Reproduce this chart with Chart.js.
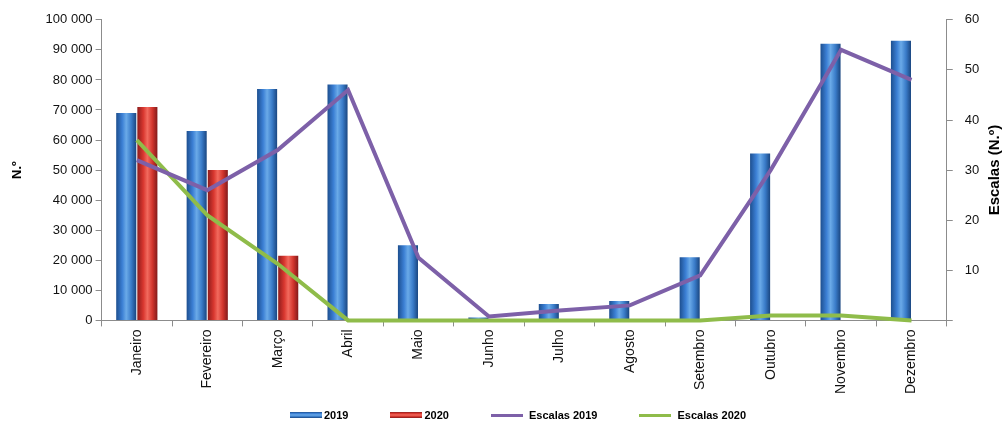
<!DOCTYPE html>
<html>
<head>
<meta charset="utf-8">
<script src="https://cdn.jsdelivr.net/npm/chart.js@4.4.1/dist/chart.umd.min.js"></script>
<style>
  html, body { margin: 0; padding: 0; background: #fff; }
  #wrap { position: relative; width: 1002px; height: 423px; }
  #legend { position: absolute; left: 290px; top: 409px; display: flex; gap: 42px;
            font: bold 11px "Liberation Sans", Arial, sans-serif; color: #000; }
  #legend .item { display: flex; align-items: center; }
  #legend .sw { width: 32px; margin-right: 2px; }
  #legend .ln { width: 32px; height: 3px; margin-right: 6px; }
</style>
</head>
<body>
<div id="wrap">
  <canvas id="myChart" width="1002" height="423"></canvas>
  <div id="legend"></div>
</div>
<script>
var months = ['Janeiro', 'Fevereiro', 'Março', 'Abril', 'Maio', 'Junho', 'Julho', 'Agosto', 'Setembro', 'Outubro', 'Novembro', 'Dezembro'];
var valores2019 = [69000, 63000, 77000, 78500, 25000, 1000, 5500, 6500, 21000, 55500, 92000, 93000];
var valores2020 = [71000, 50000, 21500, null, null, null, null, null, null, null, null, null];
var escalas2019 = [32, 26, 34, 46, 12.5, 0.8, 2, 3, 9, 30, 54, 48];
var escalas2020 = [36, 21, 11.3, 0, 0, 0, 0, 0, 0, 1, 1, 0];

var blueStops = ['#1d4f8f', '#3b7fd4', '#6aaae8', '#3a7cc9', '#1a4680'];
var redStops = ['#8e1d1d', '#d9372f', '#f26a5e', '#d2352d', '#821a1a'];

function fmt(v) {
    return String(v).replace(/\B(?=(\d{3})+(?!\d))/g, ' ');
}

// cylinder-like shading on the bars
var barShade = {
    id: 'barShade',
    beforeDatasetsDraw: function (chart) {
        var ctx = chart.ctx;
        chart.data.datasets.forEach(function (ds, i) {
            if (ds.type !== 'bar') return;
            var stops = ds.shade;
            chart.getDatasetMeta(i).data.forEach(function (bar) {
                var p = bar.getProps(['x', 'width'], true);
                var g = ctx.createLinearGradient(p.x - p.width / 2, 0, p.x + p.width / 2, 0);
                g.addColorStop(0, stops[0]);
                g.addColorStop(0.3, stops[1]);
                g.addColorStop(0.5, stops[2]);
                g.addColorStop(0.75, stops[3]);
                g.addColorStop(1, stops[4]);
                bar.options.backgroundColor = g;
            });
        });
    }
};

// right axis title reads bottom to top
var rightTitle = {
    id: 'rightTitle',
    afterDraw: function (chart) {
        var ctx = chart.ctx;
        var a = chart.chartArea;
        ctx.save();
        ctx.translate(995, (a.top + a.bottom) / 2);
        ctx.rotate(-Math.PI / 2);
        ctx.font = 'bold 15px "Liberation Sans", Arial, sans-serif';
        ctx.fillStyle = '#000';
        ctx.textAlign = 'center';
        ctx.textBaseline = 'middle';
        ctx.fillText('Escalas (N.º)', 0, 0);
        ctx.restore();
    }
};

const ctx = document.getElementById('myChart');
const chart = new Chart(ctx, {
    data: {
        labels: months,
        datasets: [{
            type: 'line',
            label: 'Escalas 2019',
            data: escalas2019,
            yAxisID: 'y1',
            borderColor: '#7d60a8',
            backgroundColor: '#7d60a8',
            borderWidth: 4,
            pointRadius: 0,
            clip: false,
            order: 0
        }, {
            type: 'line',
            label: 'Escalas 2020',
            data: escalas2020,
            yAxisID: 'y1',
            borderColor: '#8fbc4a',
            backgroundColor: '#8fbc4a',
            borderWidth: 4,
            pointRadius: 0,
            clip: false,
            order: 0
        }, {
            type: 'bar',
            label: '2019',
            data: valores2019,
            yAxisID: 'y',
            shade: blueStops,
            backgroundColor: function () { return '#3b7fd4'; },
            borderWidth: 0,
            categoryPercentage: 0.6,
            barPercentage: 0.95,
            order: 1
        }, {
            type: 'bar',
            label: '2020',
            data: valores2020,
            yAxisID: 'y',
            shade: redStops,
            backgroundColor: function () { return '#d9372f'; },
            borderWidth: 0,
            categoryPercentage: 0.6,
            barPercentage: 0.95,
            order: 1
        }]
    },
    options: {
        responsive: false,
        animation: false,
        layout: { padding: { left: 6, right: 0, top: 18, bottom: 26 } },
        plugins: {
            legend: { display: false },
            tooltip: { enabled: false }
        },
        scales: {
            x: {
                grid: { drawOnChartArea: false, tickLength: 6, color: '#8c8c8c' },
                border: { color: '#8c8c8c' },
                ticks: {
                    minRotation: 90, maxRotation: 90, color: '#111',
                    font: { family: '"Liberation Sans", Arial, sans-serif', size: 14 }
                }
            },
            y: {
                position: 'left',
                min: 0, max: 100000,
                grid: { drawOnChartArea: false, tickLength: 6, color: '#8c8c8c' },
                border: { color: '#8c8c8c' },
                ticks: {
                    stepSize: 10000, color: '#111',
                    font: { family: '"Liberation Sans", Arial, sans-serif', size: 13 },
                    callback: function (v) { return fmt(v); }
                },
                title: {
                    display: true, text: 'N.º', color: '#000',
                    padding: { top: 4, bottom: 17 },
                    font: { family: '"Liberation Sans", Arial, sans-serif', size: 13, weight: 'bold' }
                }
            },
            y1: {
                position: 'right',
                min: 0, max: 60,
                grid: { drawOnChartArea: false, tickLength: 6, color: '#8c8c8c' },
                border: { color: '#8c8c8c' },
                ticks: {
                    stepSize: 10, color: '#111', padding: 12,
                    font: { family: '"Liberation Sans", Arial, sans-serif', size: 13 },
                    callback: function (v) { return v === 0 ? '' : v; }
                },
                title: {
                    display: true, text: 'Escalas (N.º)', color: 'rgba(0,0,0,0)',
                    padding: { top: 0, bottom: 0 },
                    font: { family: '"Liberation Sans", Arial, sans-serif', size: 9, weight: 'bold' }
                }
            }
        }
    },
    plugins: [barShade, rightTitle]
});

// legend built from the datasets
var legend = document.getElementById('legend');
[2, 3, 0, 1].forEach(function (i) {
    var ds = chart.data.datasets[i];
    var item = document.createElement('div');
    item.className = 'item';
    var sw = document.createElement('span');
    if (ds.type === 'bar') {
        sw.className = 'sw';
        sw.style.height = '6px';
        sw.style.background = 'linear-gradient(to bottom,' + ds.shade.join(',') + ')';
    } else {
        sw.className = 'ln';
        sw.style.background = ds.borderColor;
    }
    var t = document.createElement('span');
    t.textContent = ds.label;
    item.appendChild(sw);
    item.appendChild(t);
    legend.appendChild(item);
});
</script>
</body>
</html>
